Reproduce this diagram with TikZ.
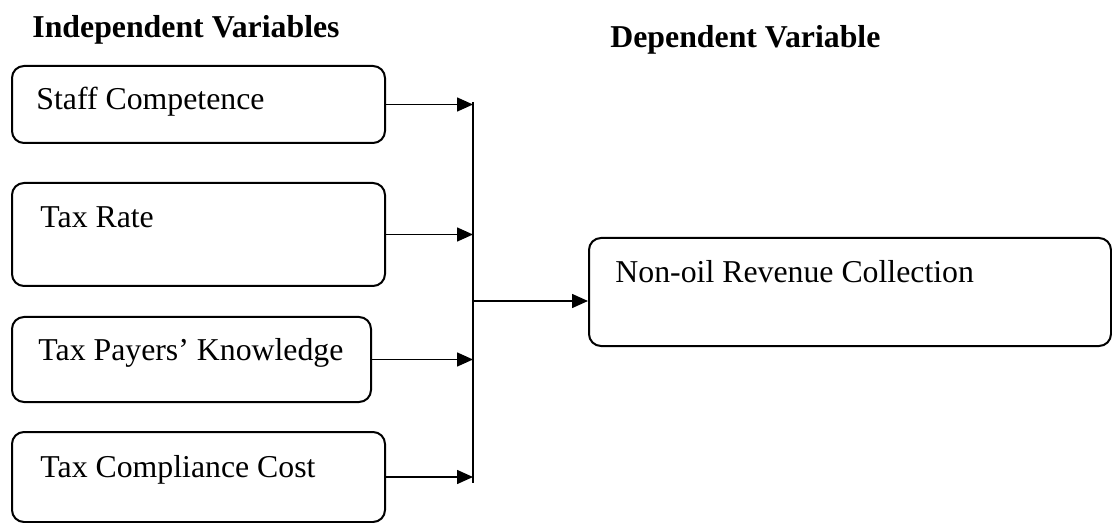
\documentclass[tikz,border=0pt]{standalone}
\usepackage{fontspec}
\setmainfont{Liberation Serif}
\usetikzlibrary{arrows.meta}

\begin{document}
\begin{tikzpicture}[
  x=.5pt,y=-.5pt,
  font=\fontsize{15.9pt}{19pt}\selectfont,
  varbox/.style={draw,line width=1pt,rounded corners=6pt,minimum height=#1},
  varbox/.default=40pt,
  boxtext/.style={anchor=base west,inner sep=0pt},
  heading/.style={anchor=base west,inner sep=0pt,font=\fontsize{15.9pt}{19pt}\selectfont\bfseries},
  link/.style={line width=.75pt,-{Triangle[length=8pt,width=7pt]}}
]
  \useasboundingbox (0,0) rectangle (1112,523);

  % headings
  \node[heading] (indep) at (32,38) {Independent Variables};
  \node[heading] (dep) at (610,48) {Dependent Variable};

  % independent variables
  \node[varbox=38.5pt,minimum width=186.5pt] (staff) at (198.5,104.5) {};
  \node[varbox=51.5pt,minimum width=186.5pt] (rate) at (198.5,234.5) {};
  \node[varbox=42.5pt,minimum width=179.5pt] (knowledge) at (191.5,359.5) {};
  \node[varbox=45pt,minimum width=186.5pt] (compliance) at (198.5,477) {};
  \node[boxtext] (staffText) at (36,110) {Staff Competence};
  \node[boxtext] (rateText) at (40,228) {Tax Rate};
  \node[boxtext] (knowledgeText) at (38,360) {Tax Payers’ Knowledge};
  \node[boxtext] (complianceText) at (40,477) {Tax Compliance Cost};

  % dependent variable
  \node[varbox=54pt,minimum width=261pt] (revenue) at (850,292) {};
  \node[boxtext] (revenueText) at (615,283) {Non-oil Revenue Collection};

  % collecting line
  \coordinate (busTop) at (473,102);
  \coordinate (busBottom) at (473,483);
  \coordinate (busJoin) at (473,301);
  \draw[line width=.75pt] (busTop) -- (busBottom);

  \draw[link] (staff.east) -- (staff.east -| busTop);
  \draw[link] (rate.east) -- (rate.east -| busTop);
  \draw[link] (knowledge.east) -- (knowledge.east -| busTop);
  \draw[link] (compliance.east) -- (compliance.east -| busTop);
  \draw[link] (busJoin) -- (busJoin -| revenue.west);
\end{tikzpicture}
\end{document}
